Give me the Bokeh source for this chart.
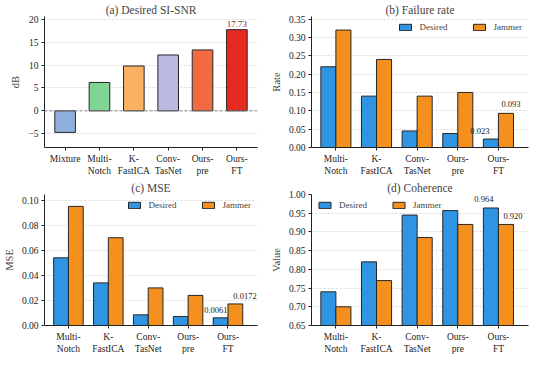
from bokeh.plotting import figure
from bokeh.layouts import gridplot
from bokeh.models import Range1d, FixedTicker, Span, Legend, LegendItem, Label
from bokeh.embed import file_html
from bokeh.resources import INLINE

# ---------------- data ----------------
methods_a = ["Mixture", "Multi-\nNotch", "K-\nFastICA", "Conv-\nTasNet", "Ours-\npre", "Ours-\nFT"]
sisnr = [-4.7, 6.2, 9.8, 12.2, 13.3, 17.73]
colors_a = ["#8fb0dc", "#80d494", "#f8b262", "#b9b9e2", "#f26a42", "#e62a20"]

methods = ["Multi-\nNotch", "K-\nFastICA", "Conv-\nTasNet", "Ours-\npre", "Ours-\nFT"]
fail_desired = [0.22, 0.14, 0.045, 0.038, 0.023]
fail_jammer = [0.32, 0.24, 0.14, 0.15, 0.093]
mse_desired = [0.054, 0.034, 0.0085, 0.0072, 0.0061]
mse_jammer = [0.095, 0.070, 0.030, 0.024, 0.0172]
coh_desired = [0.74, 0.82, 0.945, 0.957, 0.964]
coh_jammer = [0.70, 0.77, 0.885, 0.920, 0.920]

C_DES = "#2f95e2"
C_JAM = "#f5901e"
EDGE = "#262626"
FONT = "Liberation Serif"


def style(p, ylabel, ticks, fmt):
    p.title.text_font = FONT
    p.title.text_font_size = "11.5px"
    p.title.text_font_style = "normal"
    p.title.align = "center"
    p.title.standoff = 2
    p.outline_line_color = None
    p.xgrid.grid_line_color = None
    p.ygrid.grid_line_color = "#d9d9d9"
    p.ygrid.grid_line_dash = "2 2"
    p.yaxis[0].axis_label = ylabel
    p.yaxis[0].axis_label_text_font = FONT
    p.yaxis[0].axis_label_text_font_size = "10.5px"
    p.yaxis[0].axis_label_text_font_style = "normal"
    p.yaxis[0].axis_label_standoff = 4
    p.yaxis[0].ticker = FixedTicker(ticks=ticks)
    p.yaxis[0].major_label_overrides = {t: fmt(t) for t in ticks}
    for ax in (p.xaxis[0], p.yaxis[0]):
        ax.major_label_text_font = FONT
        ax.major_label_text_font_size = "9.5px"
        ax.major_label_text_color = "#222222"
        ax.axis_line_color = "#222222"
        ax.major_tick_line_color = "#222222"
        ax.minor_tick_line_color = None
        ax.major_tick_out = 3
        ax.major_tick_in = 0
        ax.major_label_standoff = 3


W, H = 267, 178

# ---------------- (a) ----------------
pa = figure(width=W, height=H, output_backend="svg", toolbar_location=None,
            title="(a) Desired SI-SNR", x_range=Range1d(-0.6, 5.6), y_range=Range1d(-8, 20.6),
            min_border_left=30, min_border_right=10, min_border_top=4, min_border_bottom=4)
xa = list(range(len(sisnr)))
pa.vbar(x=xa, top=sisnr, bottom=0, width=0.6, fill_color=colors_a, line_color=EDGE, line_width=1)
pa.add_layout(Span(location=0, dimension="width", line_color="#888888", line_dash="3 2", line_width=1))
pa.add_layout(Label(x=xa[-1], y=sisnr[-1], text="%.2f" % sisnr[-1], text_font=FONT,
                    text_font_size="9px", text_color="#7a1f4a", text_align="center",
                    text_baseline="bottom", y_offset=3))
style(pa, "dB", [-5, 0, 5, 10, 15, 20], lambda t: ("−%d" % -t) if t < 0 else "%d" % t)
pa.xaxis[0].ticker = FixedTicker(ticks=xa)
pa.xaxis[0].major_label_overrides = {i: m for i, m in enumerate(methods_a)}


def grouped(title, des, jam, yr, ylabel, ticks, fmt, legend_loc, labels):
    p = figure(width=W, height=H, output_backend="svg", toolbar_location=None,
               title=title, x_range=Range1d(-0.6, 4.74), y_range=Range1d(*yr),
               min_border_left=30, min_border_right=6, min_border_top=4, min_border_bottom=4)
    n = len(des)
    bw = 0.37
    xd = [i - bw / 2 for i in range(n)]
    xj = [i + bw / 2 for i in range(n)]
    r1 = p.vbar(x=xd, top=des, bottom=yr[0], width=bw, fill_color=C_DES, line_color=EDGE, line_width=1)
    r2 = p.vbar(x=xj, top=jam, bottom=yr[0], width=bw, fill_color=C_JAM, line_color=EDGE, line_width=1)
    leg = Legend(items=[LegendItem(label="Desired", renderers=[r1]), LegendItem(label="Jammer", renderers=[r2])],
                 orientation="horizontal", location=legend_loc, border_line_color=None,
                 background_fill_alpha=0, label_text_font=FONT, label_text_font_size="9px",
                 glyph_width=15, glyph_height=8, spacing=24, padding=4, margin=6, label_standoff=7)
    p.add_layout(leg)
    (dtxt, dxo, dyo, dalign), (jtxt, jxo, jyo, jalign) = labels
    p.add_layout(Label(x=xd[-1], y=des[-1], text=dtxt, text_font=FONT, text_font_size="8.5px",
                       text_color="#222222", text_align=dalign, text_baseline="bottom",
                       x_offset=dxo, y_offset=dyo))
    p.add_layout(Label(x=xj[-1], y=jam[-1], text=jtxt, text_font=FONT, text_font_size="8.5px",
                       text_color="#222222", text_align=jalign, text_baseline="bottom",
                       x_offset=jxo, y_offset=jyo))
    style(p, ylabel, ticks, fmt)
    p.xaxis[0].ticker = FixedTicker(ticks=list(range(n)))
    p.xaxis[0].major_label_overrides = {i: m for i, m in enumerate(methods)}
    return p


pb = grouped("(b) Failure rate", fail_desired, fail_jammer, (0, 0.357), "Rate",
             [0, 0.05, 0.10, 0.15, 0.20, 0.25, 0.30, 0.35], lambda t: "%.2f" % t, "top_right",
             (("%.3f" % fail_desired[-1], -11, 5, "center"), ("%.3f" % fail_jammer[-1], 5, 6, "center")))
pc = grouped("(c) MSE", mse_desired, mse_jammer, (0, 0.1045), "MSE",
             [0, 0.02, 0.04, 0.06, 0.08, 0.10], lambda t: "%.2f" % t, "top_right",
             (("%.4f" % mse_desired[-1], 7, 5, "right"), ("%.4f" % mse_jammer[-1], -2, 5, "left")))
pd_ = grouped("(d) Coherence", coh_desired, coh_jammer, (0.65, 1.0), "Value",
              [0.65, 0.70, 0.75, 0.80, 0.85, 0.90, 0.95, 1.00], lambda t: "%.2f" % t, "top_left",
              (("%.3f" % coh_desired[-1], -7, 6, "center"), ("%.3f" % coh_jammer[-1], 7, 5, "center")))

grid = gridplot([[pa, pb], [pc, pd_]], toolbar_location=None)

open("out.html", "w").write(file_html(grid, INLINE))
